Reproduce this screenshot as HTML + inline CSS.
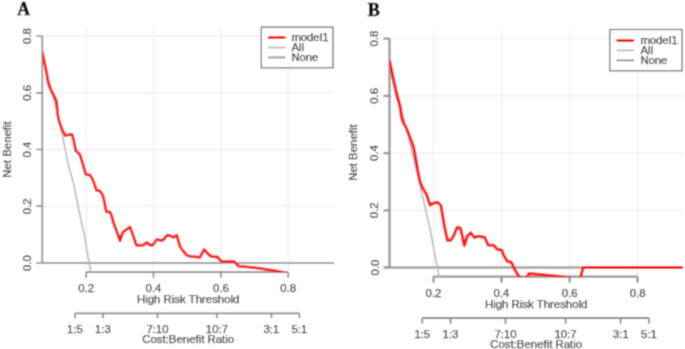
<!DOCTYPE html>
<html><head><meta charset="utf-8"><style>
html,body{margin:0;padding:0;background:#fff;width:685px;height:349px;overflow:hidden}
svg{display:block}
text{font-family:"Liberation Sans",sans-serif;font-size:11.4px;fill:#363636;stroke:#363636;stroke-width:0.25px}
</style></head><body>
<svg width="685" height="349" viewBox="0 0 685 349">
<defs><filter id="bl" x="0" y="0" width="685" height="349" filterUnits="userSpaceOnUse"><feConvolveMatrix order="3" kernelMatrix="1 3 1 3 9 3 1 3 1" divisor="25" edgeMode="duplicate"/></filter></defs>
<rect width="685" height="349" fill="#fff"/>
<g filter="url(#bl)">
<rect width="685" height="349" fill="#fff"/>
<clipPath id="cA"><rect x="42.3" y="27" width="291.7" height="245.79999999999998"/></clipPath>
<path d="M86.2 27V272.2M153.5 27V272.2M220.9 27V272.2M288.2 27V272.2M42.3 206.2H334M42.3 149.5H334M42.3 92.8H334M42.3 36.0H334" stroke="#efefef" stroke-width="1.3" fill="none"/>
<path d="M42.3 36.0V263.0M36.3 263.0H42.3M36.3 206.2H42.3M36.3 149.5H42.3M36.3 92.8H42.3M36.3 36.0H42.3M86.2 272.2H288.2M86.2 272.2v5.5M153.5 272.2v5.5M220.9 272.2v5.5M288.2 272.2v5.5" stroke="#8a8a8a" stroke-width="1.7" fill="none"/>
<path d="M75.0 313.3H299.4M75.0 313.3v5M103.0 313.3v5M157.5 313.3v5M216.9 313.3v5M271.4 313.3v5M299.4 313.3v5" stroke="#8a8a8a" stroke-width="1.7" fill="none"/>
<path d="M42.3 263.0H334" stroke="#a2a2a2" stroke-width="2.2" fill="none"/>
<polyline clip-path="url(#cA)" points="42.0,53.0 47.0,72.0 52.0,92.0 55.6,106.0 58.6,120.0 62.4,135.0 68.4,165.0 73.9,185.0 76.9,200.0 80.9,220.0 84.4,235.0 89.1,263.0 90.9,272.0 92.0,278.0" stroke="#b6b6b6" stroke-width="1.5" fill="none"/>
<polyline clip-path="url(#cA)" points="42.3,52.0 44.0,60.0 46.3,71.5 48.0,81.8 49.2,85.9 51.5,91.0 55.5,99.0 56.4,101.0 57.9,115.9 59.6,122.8 62.2,129.7 65.6,135.7 69.1,134.5 72.2,134.9 73.6,139.5 75.7,150.6 77.4,152.3 79.6,154.1 82.2,161.8 85.6,173.8 87.3,174.7 89.9,175.0 92.5,179.0 96.5,190.3 99.5,190.7 101.2,192.4 103.4,197.2 106.3,211.8 109.8,211.8 111.5,215.2 113.2,222.1 115.7,228.7 120.1,240.8 122.6,232.7 126.0,229.9 130.0,227.0 132.9,235.0 136.3,245.0 139.8,245.3 143.8,244.8 146.6,242.5 150.1,245.0 152.9,245.0 156.9,239.3 160.4,240.4 163.2,240.0 167.1,235.2 170.3,235.7 173.5,237.4 176.8,235.2 180.0,246.5 183.2,251.0 187.1,255.5 191.0,256.4 200.0,257.4 201.9,253.5 204.1,249.4 207.1,252.9 211.0,256.4 217.5,257.0 220.5,260.6 222.0,261.1 234.4,261.6 237.8,265.6 239.1,266.1 259.6,268.3 274.2,270.7 286.0,272.8" stroke="#ff1212" stroke-width="2.8" fill="none" stroke-linejoin="round"/>
<text x="31.2" y="263.0" transform="rotate(-90 31.2 263.0)" text-anchor="middle">0.0</text>
<text x="31.2" y="206.2" transform="rotate(-90 31.2 206.2)" text-anchor="middle">0.2</text>
<text x="31.2" y="149.5" transform="rotate(-90 31.2 149.5)" text-anchor="middle">0.4</text>
<text x="31.2" y="92.8" transform="rotate(-90 31.2 92.8)" text-anchor="middle">0.6</text>
<text x="31.2" y="36.0" transform="rotate(-90 31.2 36.0)" text-anchor="middle">0.8</text>
<text x="10.6" y="149.5" transform="rotate(-90 10.6 149.5)" text-anchor="middle">Net Benefit</text>
<text x="86.2" y="292.2" text-anchor="middle">0.2</text>
<text x="153.5" y="292.2" text-anchor="middle">0.4</text>
<text x="220.9" y="292.2" text-anchor="middle">0.6</text>
<text x="288.2" y="292.2" text-anchor="middle">0.8</text>
<text x="188.2" y="303.4" text-anchor="middle">High Risk Threshold</text>
<text x="75.0" y="333" text-anchor="middle">1:5</text>
<text x="103.0" y="333" text-anchor="middle">1:3</text>
<text x="157.5" y="333" text-anchor="middle">7:10</text>
<text x="216.9" y="333" text-anchor="middle">10:7</text>
<text x="271.4" y="333" text-anchor="middle">3:1</text>
<text x="299.4" y="333" text-anchor="middle">5:1</text>
<text x="188.2" y="342.6" text-anchor="middle">Cost:Benefit Ratio</text>
<rect x="261.3" y="27.1" width="71.69999999999999" height="40.699999999999996" fill="#fff" stroke="#666" stroke-width="1.2"/>
<path d="M268 37.4H285.5" stroke="#ff1212" stroke-width="2.8"/>
<path d="M268 47.6H285.5" stroke="#b6b6b6" stroke-width="1.7"/>
<path d="M268 57.4H285.5" stroke="#a6a6a6" stroke-width="2.2"/>
<text x="291.4" y="40.9" style="font-size:11.3px">model1</text>
<text x="291.4" y="50.8" style="font-size:11.3px">All</text>
<text x="291.4" y="60.7" style="font-size:11.3px">None</text>
<text x="17.3" y="14.6" style="font-family:&quot;Liberation Serif&quot;,serif;font-weight:bold;font-size:17.8px;fill:#000;stroke:#000;stroke-width:0.5px">A</text>
<clipPath id="cB"><rect x="389.5" y="29.3" width="293.5" height="247.99999999999997"/></clipPath>
<path d="M433.5 29.3V276.7M501.5 29.3V276.7M569.6 29.3V276.7M637.6 29.3V276.7M389.5 210.3H683M389.5 153.1H683M389.5 95.8H683M389.5 38.6H683" stroke="#efefef" stroke-width="1.3" fill="none"/>
<path d="M389.5 38.6V267.5M383.5 267.5H389.5M383.5 210.3H389.5M383.5 153.1H389.5M383.5 95.8H389.5M383.5 38.6H389.5M433.5 276.7H637.6M433.5 276.7v6M501.5 276.7v6M569.6 276.7v6M637.6 276.7v6" stroke="#959595" stroke-width="2.3" fill="none"/>
<path d="M422.2 318H649.0M422.2 318v5.8M450.5 318v5.8M505.5 318v5.8M565.6 318v5.8M620.6 318v5.8M649.0 318v5.8" stroke="#8a8a8a" stroke-width="1.8" fill="none"/>
<path d="M389.5 267.5H683" stroke="#a2a2a2" stroke-width="2.4" fill="none"/>
<polyline clip-path="url(#cB)" points="387.0,50.0 389.4,58.0 397.0,90.0 405.0,123.0 414.0,160.0 422.2,194.6 430.3,230.0 437.3,267.5 439.2,276.6 440.5,283.0" stroke="#b6b6b6" stroke-width="1.5" fill="none"/>
<polyline clip-path="url(#cB)" points="389.5,60.0 394.0,83.0 397.0,96.0 399.7,105.0 401.7,118.0 403.6,123.5 405.7,126.5 408.6,133.7 412.9,145.0 413.9,148.6 415.7,158.6 417.9,171.5 420.0,181.5 422.2,187.2 426.5,194.3 430.0,205.1 433.6,203.2 437.2,202.2 440.8,205.1 442.9,217.2 444.6,227.2 447.4,240.3 450.9,240.3 453.7,235.8 457.2,227.2 460.6,228.3 464.3,245.5 467.5,235.8 470.7,232.9 474.4,237.5 478.4,236.1 484.7,237.3 488.1,244.9 493.8,245.3 497.2,249.3 501.5,250.0 504.3,256.5 507.2,261.1 511.5,262.5 514.3,268.7 517.2,273.7 520.1,278.0 523.0,283.0 526.5,278.0 529.0,273.4 545.0,275.1 560.0,276.6 569.0,277.8 575.5,284.0 580.5,277.5 583.0,267.6 690.0,267.6" stroke="#ff1212" stroke-width="3.0" fill="none" stroke-linejoin="round"/>
<text x="378.5" y="267.5" transform="rotate(-90 378.5 267.5)" text-anchor="middle">0.0</text>
<text x="378.5" y="210.3" transform="rotate(-90 378.5 210.3)" text-anchor="middle">0.2</text>
<text x="378.5" y="153.1" transform="rotate(-90 378.5 153.1)" text-anchor="middle">0.4</text>
<text x="378.5" y="95.8" transform="rotate(-90 378.5 95.8)" text-anchor="middle">0.6</text>
<text x="378.5" y="38.6" transform="rotate(-90 378.5 38.6)" text-anchor="middle">0.8</text>
<text x="357.4" y="152.6" transform="rotate(-90 357.4 152.6)" text-anchor="middle">Net Benefit</text>
<text x="433.5" y="296.7" text-anchor="middle">0.2</text>
<text x="501.5" y="296.7" text-anchor="middle">0.4</text>
<text x="569.6" y="296.7" text-anchor="middle">0.6</text>
<text x="637.6" y="296.7" text-anchor="middle">0.8</text>
<text x="536.2" y="308.3" text-anchor="middle">High Risk Threshold</text>
<text x="422.2" y="337.5" text-anchor="middle">1:5</text>
<text x="450.5" y="337.5" text-anchor="middle">1:3</text>
<text x="505.5" y="337.5" text-anchor="middle">7:10</text>
<text x="565.6" y="337.5" text-anchor="middle">10:7</text>
<text x="620.6" y="337.5" text-anchor="middle">3:1</text>
<text x="649.0" y="337.5" text-anchor="middle">5:1</text>
<text x="536.2" y="347.7" text-anchor="middle">Cost:Benefit Ratio</text>
<rect x="609.8" y="29.5" width="72.30000000000007" height="41.3" fill="#fff" stroke="#666" stroke-width="1.2"/>
<path d="M616.6 40.5H634" stroke="#ff1212" stroke-width="3"/>
<path d="M616.6 50.4H634" stroke="#b6b6b6" stroke-width="1.7"/>
<path d="M616.6 60.4H634" stroke="#555" stroke-width="1.3"/>
<text x="640.4" y="43.6" style="font-size:11.3px">model1</text>
<text x="640.4" y="53.6" style="font-size:11.3px">All</text>
<text x="640.4" y="63.7" style="font-size:11.3px">None</text>
<text x="367.7" y="16.2" style="font-family:&quot;Liberation Serif&quot;,serif;font-weight:bold;font-size:18.0px;fill:#000;stroke:#000;stroke-width:0.6px">B</text>
</g>
</svg>
</body></html>
